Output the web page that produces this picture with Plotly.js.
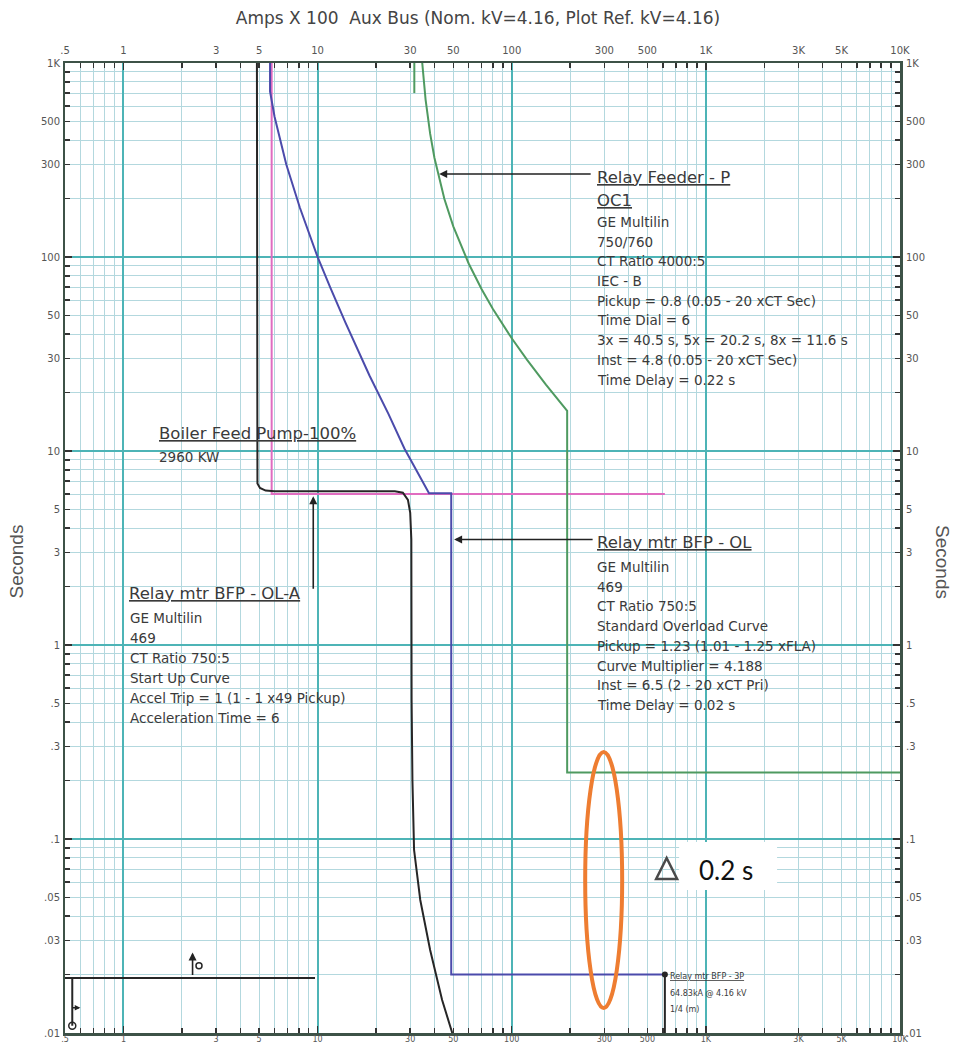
<!DOCTYPE html>
<html>
<head>
<meta charset="utf-8">
<script src="https://cdn.plot.ly/plotly-3.0.1.min.js"></script>
<style>
html,body{margin:0;padding:0;background:#ffffff;}
#chart{width:956px;height:1045px;}
</style>
</head>
<body>
<div id="chart"></div>
<script>
// ---------- tick labels ----------
const xTickVals = [0.5, 1, 3, 5, 10, 30, 50, 100, 300, 500, 1000, 3000, 5000, 10000];
const xTickText = ['.5', '1', '3', '5', '10', '30', '50', '100', '300', '500', '1K', '3K', '5K', '10K'];
const yTickVals = [1000, 500, 300, 100, 50, 30, 10, 5, 3, 1, 0.5, 0.3, 0.1, 0.05, 0.03, 0.01];
const yTickText = ['1K', '500', '300', '100', '50', '30', '10', '5', '3', '1', '.5', '.3', '.1', '.05', '.03', '.01'];

// ---------- Boiler Feed Pump-100% starting curve (black) ----------
const pumpAmps = [4.87, 4.87, 4.9, 5.05, 5.4, 6.0, 25.0, 27.5, 29.2, 30.0, 30.4, 30.5, 30.8, 31.4, 33.8, 38.0, 43.8, 49.4];
const pumpSec  = [1000, 7.3, 6.8, 6.45, 6.25, 6.2, 6.2, 6.1, 5.6, 4.8, 3.5, 0.52, 0.2, 0.088, 0.0485, 0.0268, 0.0148, 0.01];

// ---------- Relay mtr BFP - OL (blue) ----------
const olAmps = [5.69, 5.69, 6.0, 6.9, 8.1, 10, 11.6, 13.9, 18.5, 23.2, 28.0, 37.5, 48.8, 48.8, 615];
const olSec  = [1000, 714, 530, 300, 180, 100, 70, 46, 24.5, 15.5, 10.3, 6.05, 6.05, 0.02, 0.02];

// ---------- Relay mtr BFP - OL-A (pink) ----------
const olaAmps = [5.8, 5.8, 615];
const olaSec  = [1000, 6.0, 6.0];

// ---------- Relay Feeder - P OC1 (green) ----------
const fdrAmps = [34.6, 36, 38, 40, 45, 50, 60, 70, 80, 100, 120, 150, 193, 193, 10000];
const fdrSec  = [1000, 648, 432, 324, 199, 144, 92.6, 68.2, 54, 38.1, 29.5, 22.0, 16.1, 0.22, 0.22];
const fdrTopAmps = [31.5, 31.5];
const fdrTopSec  = [1000, 700];

// ---------- reference marks (black) ----------
const refAmps  = [0.5, 9.7];
const refSec   = [0.0192, 0.0192];
const refVAmps = [0.545, 0.545];
const refVSec  = [0.0192, 0.0109];
const faultAmps = [615, 615];
const faultSec  = [0.02, 0.01];

// ---------- label texts ----------
const fdrHead = ['Relay Feeder - P', 'OC1'];
const fdrInfo = ['GE Multilin', '750/760', 'CT Ratio 4000:5', 'IEC - B',
  'Pickup = 0.8 (0.05 - 20 xCT Sec)', 'Time Dial = 6',
  '3x = 40.5 s, 5x = 20.2 s, 8x = 11.6 s', 'Inst = 4.8 (0.05 - 20 xCT Sec)', 'Time Delay = 0.22 s'];
const pumpHead = 'Boiler Feed Pump-100%';
const pumpInfo = '2960 KW';
const olaHead = 'Relay mtr BFP - OL-A';
const olaInfo = ['GE Multilin', '469', 'CT Ratio 750:5', 'Start Up Curve',
  'Accel Trip = 1 (1 - 1 x49 Pickup)', 'Acceleration Time = 6'];
const olHead = 'Relay mtr BFP - OL';
const olInfo = ['GE Multilin', '469', 'CT Ratio 750:5', 'Standard Overload Curve',
  'Pickup = 1.23 (1.01 - 1.25 xFLA)', 'Curve Multiplier = 4.188',
  'Inst = 6.5 (2 - 20 xCT Pri)', 'Time Delay = 0.02 s'];
const scHead = 'Relay mtr BFP - 3P';
const scInfo = ['64.83kA @ 4.16 kV', '1/4 (m)'];

// ---------- geometry ----------
const W = 956, H = 1045;
const L = 64.5, R = 900, T = 63, B = 1033;
const px = v => (v - L) / (R - L);
const py = v => (B - v) / (B - T);
const FONT = 'DejaVu Sans, Liberation Sans, Arial, sans-serif';
const TXT = '#3a3a3a';

const lg = Math.log10;

const traces = [
  {x: olaAmps, y: olaSec, mode: 'lines', line: {color: '#e06cc0', width: 2}},
  {x: pumpAmps, y: pumpSec, mode: 'lines', line: {color: '#262626', width: 2}},
  {x: olAmps, y: olSec, mode: 'lines', line: {color: '#4b4bab', width: 2}},
  {x: fdrAmps, y: fdrSec, mode: 'lines', line: {color: '#4f9a60', width: 2}},
  {x: fdrTopAmps, y: fdrTopSec, mode: 'lines', line: {color: '#4f9a60', width: 2}},
  {x: refAmps, y: refSec, mode: 'lines', line: {color: '#262626', width: 2}},
  {x: refVAmps, y: refVSec, mode: 'lines', line: {color: '#262626', width: 2}},
  {x: [refVAmps[1]], y: [refVSec[1]], mode: 'markers', marker: {symbol: 'circle-open', size: 7, color: '#262626', line: {width: 1.5}}},
  {x: [2.45], y: [0.0222], mode: 'markers', marker: {symbol: 'circle-open', size: 6, color: '#262626', line: {width: 1.5}}},
  {x: faultAmps, y: faultSec, mode: 'lines', line: {color: '#262626', width: 2}},
  {x: [faultAmps[0]], y: [faultSec[0]], mode: 'markers', marker: {size: 6, color: '#262626'}},
  // label axes carriers
  {x: [], y: [], xaxis: 'x2', yaxis: 'y2', hoverinfo: 'skip'},
  {x: [], y: [], xaxis: 'x3', yaxis: 'y3', hoverinfo: 'skip'}
];
traces.forEach(t => { if (!t.xaxis) { t.hoverinfo = 'skip'; } });

const xr = [lg(0.5), 4];
const yr = [-2, 3];
const tickFont = {family: FONT, size: 10, color: '#555'};

const baseLabelAxis = {
  type: 'log', tickmode: 'array', showgrid: false, zeroline: false, showline: false,
  ticks: '', tickfont: tickFont, fixedrange: true
};

const layout = {
  width: W, height: H,
  margin: {l: L, r: W - R, t: T, b: H - B, pad: 0},
  paper_bgcolor: '#ffffff', plot_bgcolor: '#ffffff',
  showlegend: false, hovermode: false,
  title: {text: 'Amps X 100  Aux Bus (Nom. kV=4.16, Plot Ref. kV=4.16)',
    font: {family: FONT, size: 17, color: '#444'}, x: 0.5, xanchor: 'center', y: 1 - 18 / H, yanchor: 'middle'},
  xaxis: {
    type: 'log', range: xr, dtick: 1, showgrid: true, gridcolor: '#4db4b6', gridwidth: 2,
    showticklabels: false, ticks: 'inside', ticklen: 7, tickwidth: 1.5, tickcolor: '#333',
    zeroline: false, showline: true, linecolor: '#3d5247', linewidth: 2.5, mirror: 'allticks',
    minor: {dtick: 'D1', showgrid: true, gridcolor: '#b3d8de', gridwidth: 1, ticks: 'inside', ticklen: 5, tickwidth: 1.5, tickcolor: '#333'},
    fixedrange: true
  },
  yaxis: {
    type: 'log', range: yr, dtick: 1, showgrid: true, gridcolor: '#4db4b6', gridwidth: 2,
    showticklabels: false, ticks: 'inside', ticklen: 7, tickwidth: 1.5, tickcolor: '#333',
    zeroline: false, showline: true, linecolor: '#3d5247', linewidth: 2.5, mirror: 'allticks',
    minor: {dtick: 'D1', showgrid: true, gridcolor: '#b3d8de', gridwidth: 1, ticks: 'inside', ticklen: 5, tickwidth: 1.5, tickcolor: '#333'},
    fixedrange: true
  },
  xaxis2: Object.assign({}, baseLabelAxis, {overlaying: 'x', anchor: 'y2', side: 'bottom', range: xr,
    tickvals: xTickVals, ticktext: xTickText, ticklabelstandoff: 0,
    tickfont: {family: FONT, size: 8, color: '#555'}}),
  yaxis2: Object.assign({}, baseLabelAxis, {overlaying: 'y', anchor: 'x2', side: 'left', range: yr,
    tickvals: yTickVals, ticktext: yTickText, ticklabelstandoff: 4}),
  xaxis3: Object.assign({}, baseLabelAxis, {overlaying: 'x', anchor: 'y3', side: 'top', range: xr,
    tickvals: xTickVals, ticktext: xTickText, ticklabelstandoff: 6}),
  yaxis3: Object.assign({}, baseLabelAxis, {overlaying: 'y', anchor: 'x3', side: 'right', range: yr,
    tickvals: yTickVals, ticktext: yTickText, ticklabelstandoff: 5}),
  shapes: [
    {type: 'circle', xref: 'paper', yref: 'paper', x0: px(585), x1: px(622), y0: py(1008), y1: py(752),
      line: {color: '#ee7d31', width: 4}, layer: 'above'},
    {type: 'rect', xref: 'paper', yref: 'paper', x0: px(679), x1: px(777), y0: py(890), y1: py(842),
      fillcolor: '#ffffff', line: {width: 0}, layer: 'above'},
    {type: 'path', xref: 'paper', yref: 'paper',
      path: 'M' + px(666.5) + ',' + py(858) + ' L' + px(656) + ',' + py(879) + ' L' + px(677) + ',' + py(879) + ' Z',
      line: {color: '#4a4a4a', width: 2.5}, layer: 'above'}
  ],
  annotations: []
};

const ann = layout.annotations;
function addText(text, xpx, ypx, size, opts) {
  ann.push(Object.assign({
    xref: 'paper', yref: 'paper', x: px(xpx), y: py(ypx), xanchor: 'left', yanchor: 'middle',
    text: text, showarrow: false, font: {family: FONT, size: size, color: TXT}
  }, opts || {}));
}
function addBlock(lines, xpx, y0, step, size) {
  lines.forEach((s, i) => addText(s, xpx, y0 + i * step, size));
}

// Relay Feeder - P
addText('<u>' + fdrHead[0] + '</u>', 595, 177, 16.5);
addText('<u>' + fdrHead[1] + '</u>', 595, 200, 16.5);
addBlock(fdrInfo, 595, 222, 19.7, 13.5);
// Boiler Feed Pump
addText('<u>' + pumpHead + '</u>', 157, 433, 16.5);
addText(pumpInfo, 157, 457, 13.5);
// OL-A
addText('<u>' + olaHead + '</u>', 127, 593, 16.5);
addBlock(olaInfo, 128, 618, 20, 13.5);
// OL
addText('<u>' + olHead + '</u>', 595, 542, 16.5);
addBlock(olInfo, 595, 567, 19.7, 13.5);
// short-circuit marker label
addText('<u>' + scHead + '</u>', 668, 976, 8);
addBlock(scInfo, 668, 993, 16, 8);

// arrows to curves
ann.push({xref: 'x', yref: 'y', x: lg(42.3), y: lg(268), ax: 153, ay: 0, axref: 'pixel', ayref: 'pixel',
  text: '', showarrow: true, arrowhead: 2, arrowsize: 1, arrowwidth: 1.6, arrowcolor: '#222', standoff: 0});
ann.push({xref: 'x', yref: 'y', x: lg(50.5), y: lg(3.5), ax: 140, ay: 0, axref: 'pixel', ayref: 'pixel',
  text: '', showarrow: true, arrowhead: 2, arrowsize: 1, arrowwidth: 1.6, arrowcolor: '#222', standoff: 0});
ann.push({xref: 'x', yref: 'y', x: lg(9.5), y: lg(5.85), ax: 0, ay: 94, axref: 'pixel', ayref: 'pixel',
  text: '', showarrow: true, arrowhead: 2, arrowsize: 1, arrowwidth: 1.6, arrowcolor: '#222', standoff: 0});
ann.push({xref: 'x', yref: 'y', x: lg(2.27), y: lg(0.026), ax: 0, ay: 24, axref: 'pixel', ayref: 'pixel',
  text: '', showarrow: true, arrowhead: 2, arrowsize: 1, arrowwidth: 1.6, arrowcolor: '#222', standoff: 0});
ann.push({xref: 'x', yref: 'y', x: lg(0.6), y: lg(0.0135), ax: -9, ay: 0, axref: 'pixel', ayref: 'pixel',
  text: '', showarrow: true, arrowhead: 2, arrowsize: 0.8, arrowwidth: 1.4, arrowcolor: '#222', standoff: 0});

// axis titles
ann.push({xref: 'paper', yref: 'paper', x: px(15), y: py(562), xanchor: 'center', yanchor: 'middle',
  text: 'Seconds', textangle: -90, showarrow: false, font: {family: 'Liberation Sans, Arial, sans-serif', size: 19, color: '#555'}});
ann.push({xref: 'paper', yref: 'paper', x: px(943), y: py(562), xanchor: 'center', yanchor: 'middle',
  text: 'Seconds', textangle: 90, showarrow: false, font: {family: 'Liberation Sans, Arial, sans-serif', size: 19, color: '#555'}});

// delta note
ann.push({xref: 'paper', yref: 'paper', x: px(726), y: py(870), xanchor: 'center', yanchor: 'middle',
  text: '0.2 s', showarrow: false, font: {family: 'Lato, Open Sans, sans-serif', size: 26, color: '#111'}});

Plotly.newPlot('chart', traces, layout, {staticPlot: true, displayModeBar: false});
</script>
</body>
</html>
